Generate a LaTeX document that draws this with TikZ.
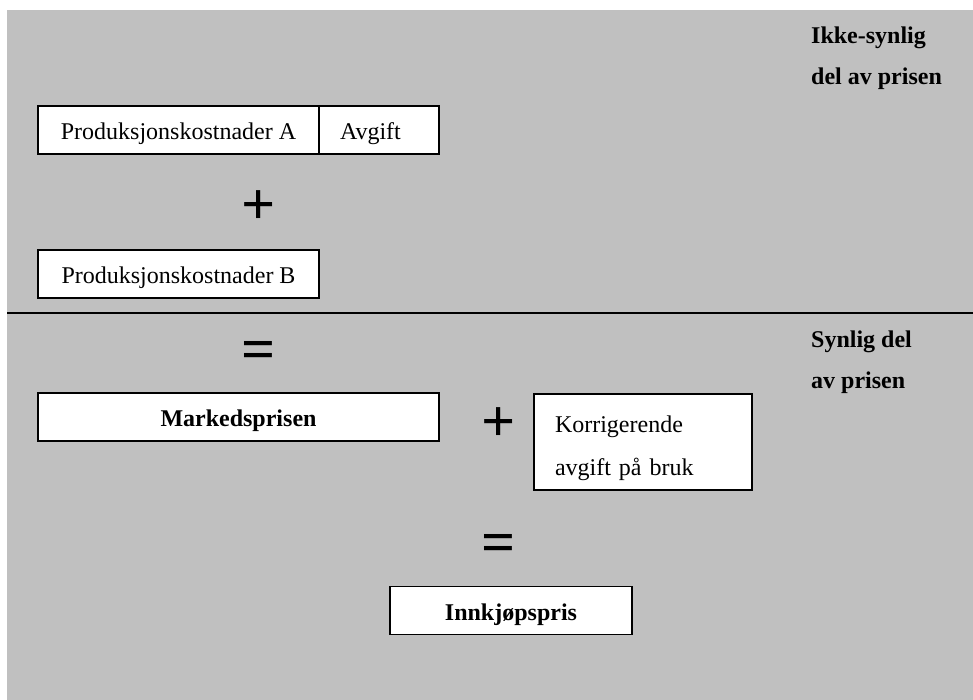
\documentclass[tikz,border=0pt]{standalone}
\usepackage{fontspec}
\setmainfont{Liberation Serif}
\usetikzlibrary{positioning}

\definecolor{bggray}{HTML}{C0C0C0}

\begin{document}
\begin{tikzpicture}[
	x=1pt, y=-1pt,
	font=\fontsize{24}{41}\selectfont,
	box/.style={draw=black, line width=1.6pt, fill=white, minimum height=48pt, inner sep=0pt, text height=19pt, text depth=0pt},
	oper/.style={font=\fontsize{60}{60}\selectfont\bfseries, inner sep=0pt, anchor=base},
	sidelabel/.style={align=left, anchor=north west, inner sep=0pt, font=\fontsize{24}{41}\selectfont\bfseries}
	]
	
	% --------------------------------------------------
	% Page and background
	% --------------------------------------------------
	\useasboundingbox (0,0) rectangle (973,700);
	\fill[white] (0,0) rectangle (973,700);
	\fill[bggray] (7,10) rectangle (973,700);
	
	\coordinate (divL) at (7,313);
	\coordinate (divR) at (973,313);
	\draw[line width=1.6pt] (divL) -- (divR);
	
	% ==================================================
	% Upper part: not visible
	% ==================================================
	\node[sidelabel] (ikke) at (811,27) {Ikke-synlig\\del av prisen};
	
	\node[box, minimum width=281pt] (prodA) at (178.5,130) {Produksjonskostnader A};
	\node[box, minimum width=120pt, text width=78pt, align=left] (avg) at (379,130) {Avgift};
	
	\node[oper] (plusA) at (259,225) {+};
	
	\node[box, minimum width=281pt] (prodB) at (178.5,274) {Produksjonskostnader B};
	
	% ==================================================
	% Lower part: visible
	% ==================================================
	\node[sidelabel] (synlig) at (811,331) {Synlig del\\av prisen};
	
	\node[oper] (eqA) at (259,369) {=};
	
	\node[box, minimum width=401pt, font=\fontsize{24}{41}\selectfont\bfseries] (marked) at (238.5,417) {Markedsprisen};
	
	\node[oper] (plusB) at (499,441) {+};
	
	\node[draw=black, line width=1.6pt, fill=white, minimum width=218pt, minimum height=96pt,
	inner xsep=21pt, inner ysep=0pt, text width=176pt, align=left,
	font=\fontsize{24}{43}\selectfont] (korr) at (643,442) {\strut Korrigerende\\avgift på bruk};
	
	\node[oper] (eqB) at (499,562) {=};
	
	\node[box, minimum width=242pt, font=\fontsize{24}{41}\selectfont\bfseries] (innkj) at (511,610.5) {Innkjøpspris};
	
\end{tikzpicture}
\end{document}
